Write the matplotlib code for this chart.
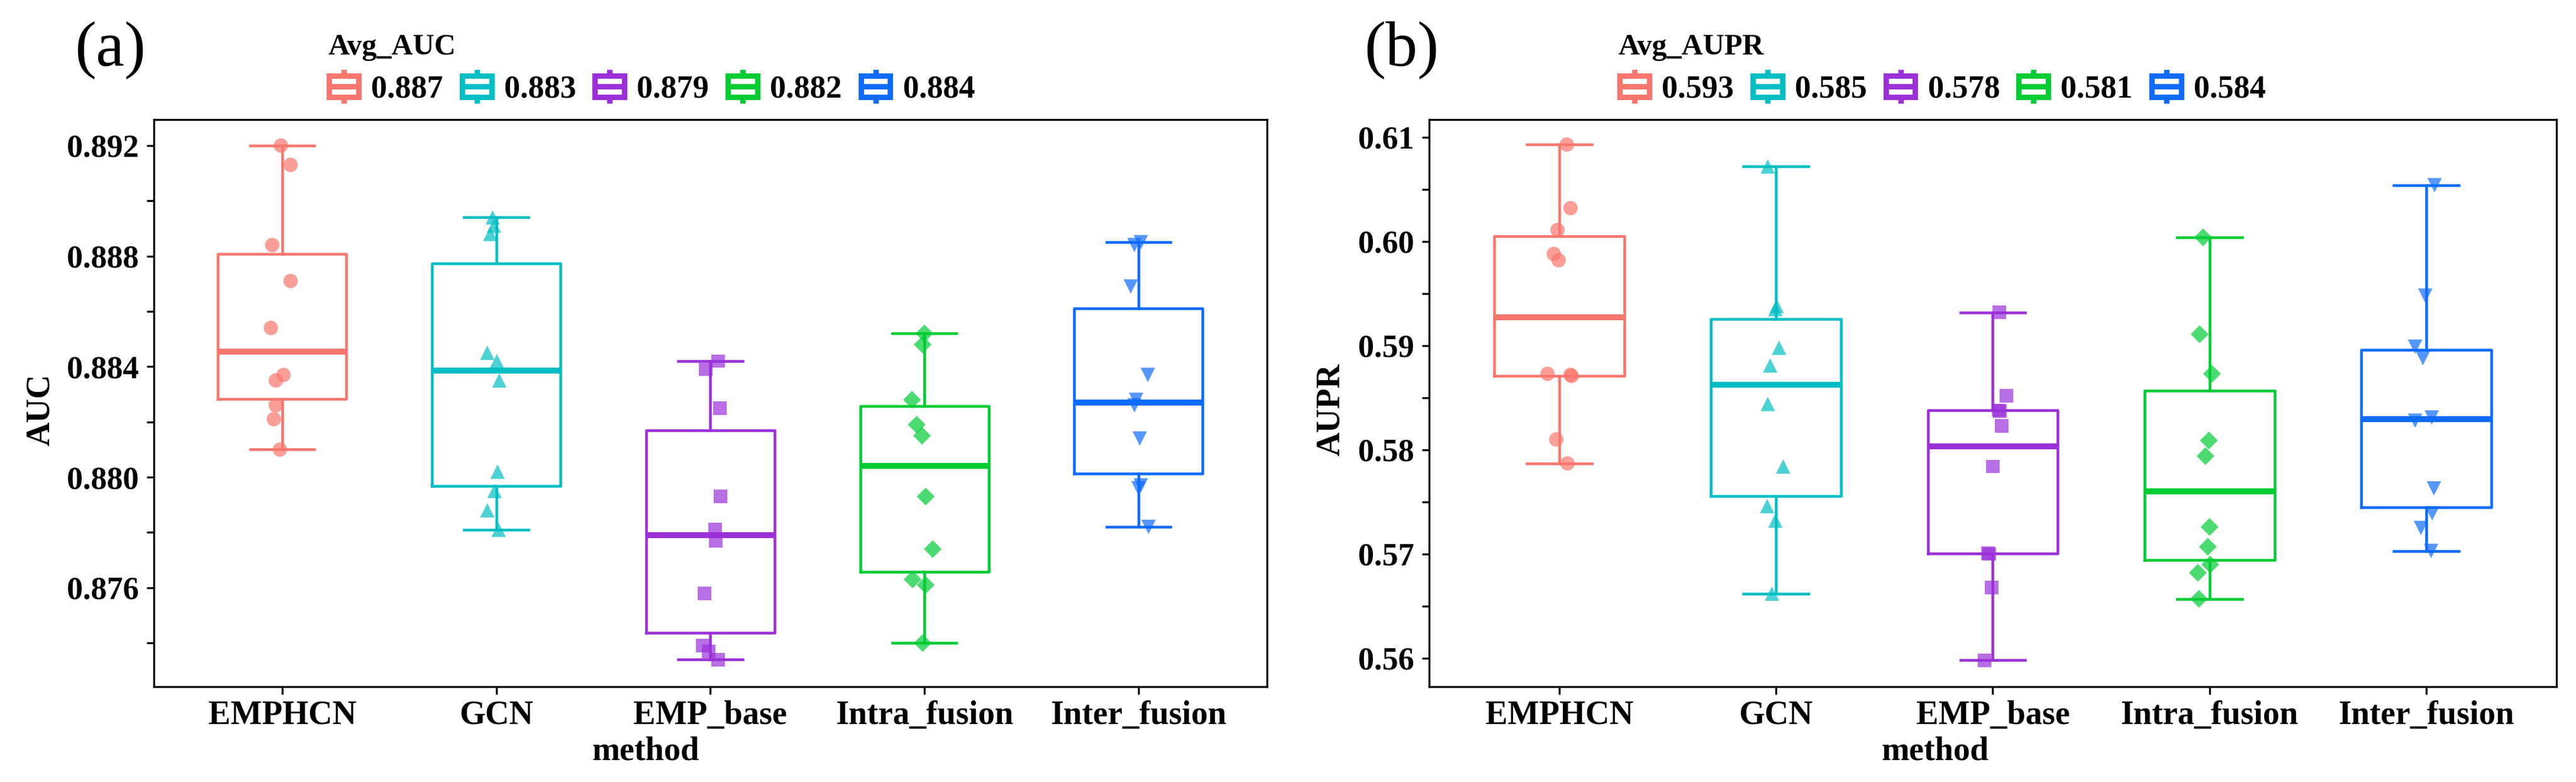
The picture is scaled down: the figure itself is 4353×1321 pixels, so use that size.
import numpy as np
import matplotlib
matplotlib.use("Agg")
import matplotlib.pyplot as plt
from matplotlib.patches import Patch, Rectangle
from matplotlib.lines import Line2D
from matplotlib.legend_handler import HandlerBase
from matplotlib.ticker import MultipleLocator, FormatStrFormatter

plt.rcParams['font.family'] = ['Liberation Serif', 'DejaVu Serif']

methods = ['EMPHCN', 'GCN', 'EMP_base', 'Intra_fusion', 'Inter_fusion']
colors = ['#F8766D', '#00BFC4', '#9B30D9', '#00CC33', '#0F6BFF']
markers = ['o', '^', 's', 'D', 'v']
marker_sizes = [34, 34, 30, 26, 34]

# AUC values per method (10 runs each)
auc_emphcn = [0.8920, 0.8913, 0.8884, 0.8871, 0.8854, 0.8837, 0.8835, 0.8826, 0.8821, 0.8810]
auc_gcn = [0.8894, 0.8891, 0.8888, 0.8845, 0.8842, 0.8835, 0.8802, 0.8795, 0.8788, 0.8781]
auc_emp_base = [0.8842, 0.8839, 0.8825, 0.8793, 0.8781, 0.8777, 0.8758, 0.8739, 0.8737, 0.8734]
auc_intra = [0.8852, 0.8848, 0.8828, 0.8819, 0.8815, 0.8793, 0.8774, 0.8763, 0.8761, 0.8740]
auc_inter = [0.8885, 0.8884, 0.8869, 0.8837, 0.8828, 0.8826, 0.8814, 0.8797, 0.8796, 0.8782]

# horizontal jitter of the points
auc_jit_emphcn = [-0.006, 0.039, -0.047, 0.039, -0.053, 0.006, -0.030, -0.030, -0.039, -0.011]
auc_jit_gcn = [-0.017, -0.011, -0.028, -0.042, 0.003, 0.014, 0.006, -0.008, -0.042, 0.011]
auc_jit_emp_base = [0.036, -0.022, 0.044, 0.047, 0.022, 0.025, -0.028, -0.036, -0.008, 0.036]
auc_jit_intra = [0.000, -0.008, -0.058, -0.036, -0.011, 0.006, 0.039, -0.055, 0.006, -0.008]
auc_jit_inter = [0.011, -0.019, -0.036, 0.044, -0.011, -0.019, 0.006, 0.011, 0.000, 0.047]

# AUPR values per method
aupr_emphcn = [0.6093, 0.6032, 0.6011, 0.5988, 0.5982, 0.5873, 0.5872, 0.5871, 0.5810, 0.5787]
aupr_gcn = [0.6072, 0.5938, 0.5935, 0.5898, 0.5881, 0.5844, 0.5784, 0.5746, 0.5732, 0.5662]
aupr_emp_base = [0.5932, 0.5852, 0.5838, 0.5837, 0.5823, 0.5784, 0.5701, 0.5700, 0.5668, 0.5598]
aupr_intra = [0.6004, 0.5911, 0.5873, 0.5809, 0.5794, 0.5726, 0.5707, 0.5690, 0.5682, 0.5657]
aupr_inter = [0.6054, 0.5948, 0.5899, 0.5888, 0.5831, 0.5828, 0.5763, 0.5739, 0.5725, 0.5703]

aupr_jit_emphcn = [0.035, 0.052, -0.008, -0.025, -0.003, -0.054, 0.052, 0.057, -0.014, 0.038]
aupr_jit_gcn = [-0.038, 0.003, -0.003, 0.014, -0.027, -0.038, 0.033, -0.041, -0.003, -0.019]
aupr_jit_emp_base = [0.030, 0.063, 0.027, 0.033, 0.041, 0.000, -0.022, -0.016, -0.005, -0.038]
aupr_jit_intra = [-0.030, -0.046, 0.011, -0.003, -0.019, 0.000, -0.008, 0.003, -0.054, -0.049]
aupr_jit_inter = [0.038, -0.005, -0.052, -0.016, 0.025, -0.052, 0.035, 0.027, -0.025, 0.022]

avg_auc_labels = ['0.887', '0.883', '0.879', '0.882', '0.884']
avg_aupr_labels = ['0.593', '0.585', '0.578', '0.581', '0.584']


class BoxKey(HandlerBase):
    # ggplot-like boxplot legend key
    def create_artists(self, legend, orig_handle, xdescent, ydescent,
                       width, height, fontsize, trans):
        c = orig_handle.get_edgecolor()
        x0, y0 = -xdescent, -ydescent
        box = Rectangle((x0 + 0.04 * width, y0 + 0.13 * height), 0.92 * width, 0.74 * height,
                        fill=False, edgecolor=c, lw=2.2, transform=trans)
        med = Line2D([x0 + 0.04 * width, x0 + 0.96 * width], [y0 + 0.5 * height] * 2,
                     color=c, lw=2.2, transform=trans)
        top = Line2D([x0 + 0.5 * width] * 2, [y0 + 0.87 * height, y0 + 1.0 * height],
                     color=c, lw=2.2, transform=trans)
        bot = Line2D([x0 + 0.5 * width] * 2, [y0, y0 + 0.13 * height],
                     color=c, lw=2.2, transform=trans)
        return [box, med, top, bot]


def draw_panel(ax, data, jitter, avg_labels, legend_title, ylabel, ylim, major, minor, fmt,
               ylabel_x, xlabel_x, legend_x, panel_tag, tag_xy):
    pos = np.arange(len(methods))
    bp = ax.boxplot(data, positions=pos, widths=0.6, showfliers=False, capwidths=0.3,
                    whis=1.5, zorder=2)
    for i, c in enumerate(colors):
        bp['boxes'][i].set(color=c, linewidth=1.1)
        bp['medians'][i].set(color=c, linewidth=2.4)
        for ln in bp['whiskers'][2 * i:2 * i + 2] + bp['caps'][2 * i:2 * i + 2]:
            ln.set(color=c, linewidth=1.1)
        ax.scatter(i + np.array(jitter[i]), data[i], marker=markers[i], s=marker_sizes[i],
                   color=c, alpha=0.7, edgecolors='none', zorder=3)

    ax.set_xlim(-0.6, 4.6)
    ax.set_ylim(*ylim)
    ax.set_xticks(pos)
    ax.set_xticklabels(methods, fontsize=13.5, fontweight='bold')
    ax.yaxis.set_major_locator(MultipleLocator(major))
    ax.yaxis.set_minor_locator(MultipleLocator(minor))
    ax.yaxis.set_major_formatter(FormatStrFormatter(fmt))
    for lbl in ax.get_yticklabels():
        lbl.set_fontweight('bold')
        lbl.set_fontsize(13)
    ax.tick_params(axis='both', which='both', direction='out', length=3, width=0.8, pad=3)
    ax.tick_params(axis='x', pad=2.5)
    for sp in ax.spines.values():
        sp.set_linewidth(0.8)

    ax.set_ylabel(ylabel, fontsize=13.5, fontweight='bold')
    ax.yaxis.set_label_coords(ylabel_x, 0.4885)
    ax.set_xlabel('method', fontsize=13.5, fontweight='bold')
    ax.xaxis.set_label_coords(xlabel_x, -0.087)

    handles = [Patch(edgecolor=c, facecolor='none') for c in colors]
    ax.legend(handles, avg_labels, title=legend_title, ncol=5, frameon=False,
              loc='upper left', bbox_to_anchor=(legend_x, 0.957),
              bbox_transform=ax.figure.transFigure, borderpad=0, borderaxespad=0,
              handler_map={Patch: BoxKey()}, handlelength=1.0, handleheight=1.0,
              handletextpad=0.35, columnspacing=0.55, labelspacing=0.35,
              alignment='left', prop={'size': 13, 'weight': 'bold'},
              title_fontproperties={'size': 12, 'weight': 'bold'})

    ax.figure.text(tag_xy[0], tag_xy[1], panel_tag, fontsize=26, ha='center', va='center')


fig = plt.figure(figsize=(4353 / 300, 1321 / 300), dpi=300)
ax1 = fig.add_axes([0.0597, 0.1219, 0.4321, 0.7252])
ax2 = fig.add_axes([0.5548, 0.1219, 0.4376, 0.7252])

draw_panel(ax1,
           [auc_emphcn, auc_gcn, auc_emp_base, auc_intra, auc_inter],
           [auc_jit_emphcn, auc_jit_gcn, auc_jit_emp_base, auc_jit_intra, auc_jit_inter],
           avg_auc_labels, 'Avg_AUC', 'AUC', (0.87242, 0.89294), 0.004, 0.002, '%.3f',
           -0.0877, 0.442, 0.1273, '(a)', (0.0427, 0.9357))

draw_panel(ax2,
           [aupr_emphcn, aupr_gcn, aupr_emp_base, aupr_intra, aupr_inter],
           [aupr_jit_emphcn, aupr_jit_gcn, aupr_jit_emp_base, aupr_jit_intra, aupr_jit_inter],
           avg_aupr_labels, 'Avg_AUPR', 'AUPR', (0.55727, 0.6117), 0.01, 0.005, '%.2f',
           -0.0735, 0.449, 0.6283, '(b)', (0.544, 0.9357))

fig.savefig('out.png', dpi=300, facecolor='white')
